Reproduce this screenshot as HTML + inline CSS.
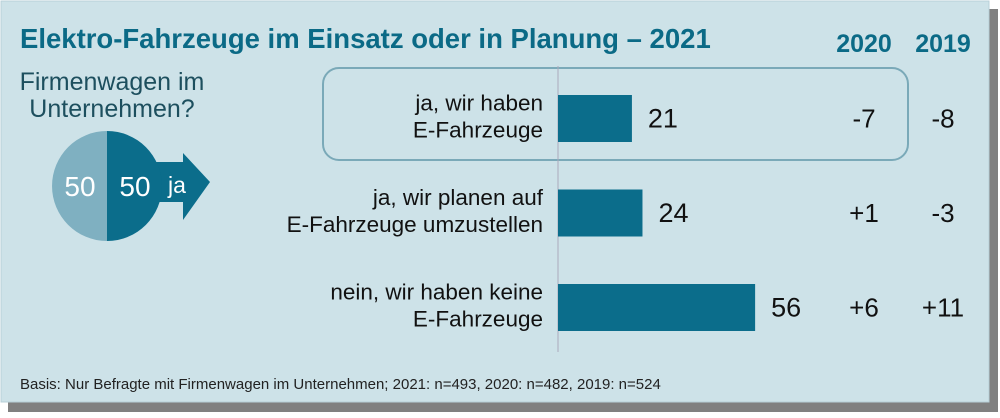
<!DOCTYPE html>
<html><head><meta charset="utf-8"><style>
body{margin:0;width:1000px;height:413px;background:#fff;overflow:hidden;font-family:"Liberation Sans",sans-serif}
</style></head><body>
<svg width="1000" height="413">
<rect x="8" y="9" width="990" height="403" fill="#808080"/>
<rect x="1" y="1" width="988" height="401" fill="#cde2e8" stroke="#b8d0d8"/>
<text x="20" y="48" font-size="27.5" font-weight="bold" fill="#0b6a86">Elektro-Fahrzeuge im Einsatz oder in Planung – 2021</text>
<text x="864" y="52" font-size="25" font-weight="bold" fill="#0b6a86" text-anchor="middle">2020</text>
<text x="943" y="52" font-size="25" font-weight="bold" fill="#0b6a86" text-anchor="middle">2019</text>
<text x="112" y="90" font-size="25" fill="#1d4f5e" text-anchor="middle"><tspan x="112">Firmenwagen im</tspan><tspan x="112" dy="27">Unternehmen?</tspan></text>
<g>
<polygon points="150,162 183,162 183,153 210,182 183,220 183,202 150,202" fill="#0b6d8b"/>
<path d="M107 131 A55 55 0 0 0 107 241 Z" fill="#7fb0c1"/>
<path d="M107 131 A55 55 0 0 1 107 241 Z" fill="#0b6d8b"/>
<text x="80" y="196" font-size="28" fill="#fff" text-anchor="middle">50</text>
<text x="135" y="196" font-size="28" fill="#fff" text-anchor="middle">50</text>
<text x="177" y="193" font-size="23" fill="#fff" text-anchor="middle">ja</text>
</g>
<rect x="323" y="68" width="585" height="92" rx="16" fill="none" stroke="#7aa9b8" stroke-width="2"/>
<line x1="558" y1="66" x2="558" y2="352" stroke="#aab" stroke-width="1"/>
<g id="bars"></g>
<text x="20" y="389" font-size="15" fill="#222">Basis: Nur Befragte mit Firmenwagen im Unternehmen; 2021: n=493, 2020: n=482, 2019: n=524</text>
</svg>
<script>
const cats=[["ja, wir haben","E-Fahrzeuge"],["ja, wir planen auf","E-Fahrzeuge umzustellen"],["nein, wir haben keine","E-Fahrzeuge"]];
const vals2021=[21,24,56];
const d2020=["-7","+1","+6"];
const d2019=["-8","-3","+11"];
const ns="http://www.w3.org/2000/svg";
const g=document.getElementById('bars');
const x0=558,sc=3.52,y0=95,step=94.5,bh=47;
function mk(t,a){const e=document.createElementNS(ns,t);for(const k in a)e.setAttribute(k,a[k]);g.appendChild(e);return e;}
vals2021.forEach((v,i)=>{
 const y=y0+i*step,cy=y+bh/2;
 const r=mk('rect',{x:x0,y:y,width:v*sc,height:bh,fill:'#0b6d8b'});
 
 
 const t=mk('text',{x:x0+v*sc+16,y:cy+9,'font-size':27,fill:'#111'});t.textContent=v;
 
 
 const l=mk('text',{x:543,y:cy-5,'font-size':22.5,fill:'#111','text-anchor':'end'});
 
 
 cats[i].forEach((s,j)=>{const ts=document.createElementNS(ns,'tspan');ts.setAttribute('x',543);if(j)ts.setAttribute('dy',27);else ts.setAttribute('dy',-3);ts.textContent=s;l.appendChild(ts);});
 const a=mk('text',{x:864,y:cy+9,'font-size':26,fill:'#111','text-anchor':'middle'});a.textContent=d2020[i];
 
 
 const b=mk('text',{x:943,y:cy+9,'font-size':26,fill:'#111','text-anchor':'middle'});b.textContent=d2019[i];
 
 
});
</script>
</body></html>
